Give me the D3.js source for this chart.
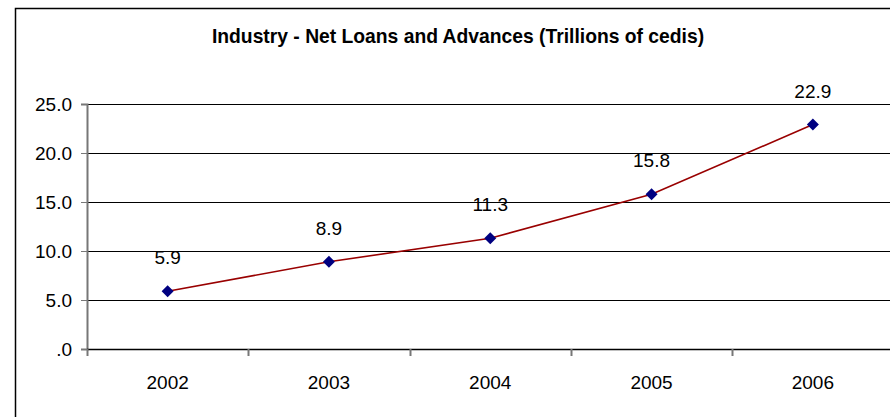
<!DOCTYPE html>
<html>
<head>
<meta charset="utf-8">
<script src="https://cdn.jsdelivr.net/npm/d3@7/dist/d3.min.js"></script>
<style>
  html, body { margin: 0; padding: 0; background: #fff; }
  svg { display: block; font-family: "Liberation Sans", Arial, sans-serif; }
</style>
</head>
<body>
<svg id="chart" width="890" height="417"></svg>
<script>
// Net loans and advances to industry, trillions of cedis
const years = ["2002", "2003", "2004", "2005", "2006"];
const loans = [5.9, 8.9, 11.3, 15.8, 22.9];
const yTicks = [0, 5, 10, 15, 20, 25];
const title = "Industry - Net Loans and Advances (Trillions of cedis)";

const svg = d3.select("#chart");
const fontSize = 19;

// chart frame
svg.append("rect")
  .attr("x", 15.5).attr("y", 8.5)
  .attr("width", 890).attr("height", 430)
  .attr("fill", "#fff").attr("stroke", "#000").attr("stroke-width", 1.5);

const plot = { left: 87, right: 893.5, top: 104, bottom: 349 };

const x = d3.scaleBand().domain(years).range([plot.left, plot.right]);
const y = d3.scaleLinear().domain([0, 25]).range([plot.bottom, plot.top]);

svg.append("text")
  .attr("x", 458).attr("y", 43)
  .attr("text-anchor", "middle")
  .attr("font-weight", "bold").attr("font-size", 19.3)
  .text(title);

// horizontal gridlines
svg.append("g")
  .selectAll("line")
  .data(yTicks.filter(d => d > 0))
  .join("line")
  .attr("x1", plot.left).attr("x2", 890)
  .attr("y1", d => Math.round(y(d)) + 0.5).attr("y2", d => Math.round(y(d)) + 0.5)
  .attr("stroke", "#000").attr("stroke-width", 1);

// y axis
const yAxis = d3.axisLeft(y).tickValues(yTicks).tickSize(6).tickPadding(9)
  .tickFormat(d => d === 0 ? ".0" : d3.format(".1f")(d));
const gy = svg.append("g").attr("transform", `translate(${plot.left},0)`).call(yAxis);
gy.select(".domain").attr("stroke", "#777").attr("stroke-width", 2);
gy.selectAll(".tick line").attr("stroke", "#777");
gy.selectAll(".tick text").attr("font-size", fontSize).attr("fill", "#000")
  .attr("font-family", "Liberation Sans, Arial, sans-serif");

// x axis with ticks between categories
const gx = svg.append("g").attr("transform", `translate(0,${plot.bottom})`);
gx.append("line")
  .attr("x1", plot.left).attr("x2", 890)
  .attr("y1", 0.5).attr("y2", 0.5)
  .attr("stroke", "#000").attr("stroke-width", 1.5);
const boundaries = years.map(d => x(d)).concat([x(years[years.length - 1]) + x.bandwidth()]);
gx.selectAll("line.tk")
  .data(boundaries.filter(b => b < 890))
  .join("line").attr("class", "tk")
  .attr("x1", d => Math.round(d) + 0.5).attr("x2", d => Math.round(d) + 0.5)
  .attr("y1", 0).attr("y2", 7)
  .attr("stroke", "#777").attr("stroke-width", 2);
gx.selectAll("text")
  .data(years)
  .join("text")
  .attr("x", d => x(d) + x.bandwidth() / 2)
  .attr("y", 40)
  .attr("text-anchor", "middle").attr("font-size", fontSize)
  .text(d => d);

// series line
const line = d3.line()
  .x((d, i) => x(years[i]) + x.bandwidth() / 2)
  .y(d => y(d));
svg.append("path")
  .datum(loans)
  .attr("d", line)
  .attr("fill", "none").attr("stroke", "#990000").attr("stroke-width", 1.6);

// diamond markers
svg.append("g")
  .selectAll("path")
  .data(loans)
  .join("path")
  .attr("transform", (d, i) => `translate(${x(years[i]) + x.bandwidth() / 2},${y(d)})`)
  .attr("d", "M0,-6L6,0L0,6L-6,0Z")
  .attr("fill", "#000080");

// value labels
svg.append("g")
  .selectAll("text")
  .data(loans)
  .join("text")
  .attr("x", (d, i) => x(years[i]) + x.bandwidth() / 2)
  .attr("y", d => y(d) - 27)
  .attr("text-anchor", "middle").attr("font-size", fontSize)
  .text(d => d3.format(".1f")(d));
</script>
</body>
</html>
